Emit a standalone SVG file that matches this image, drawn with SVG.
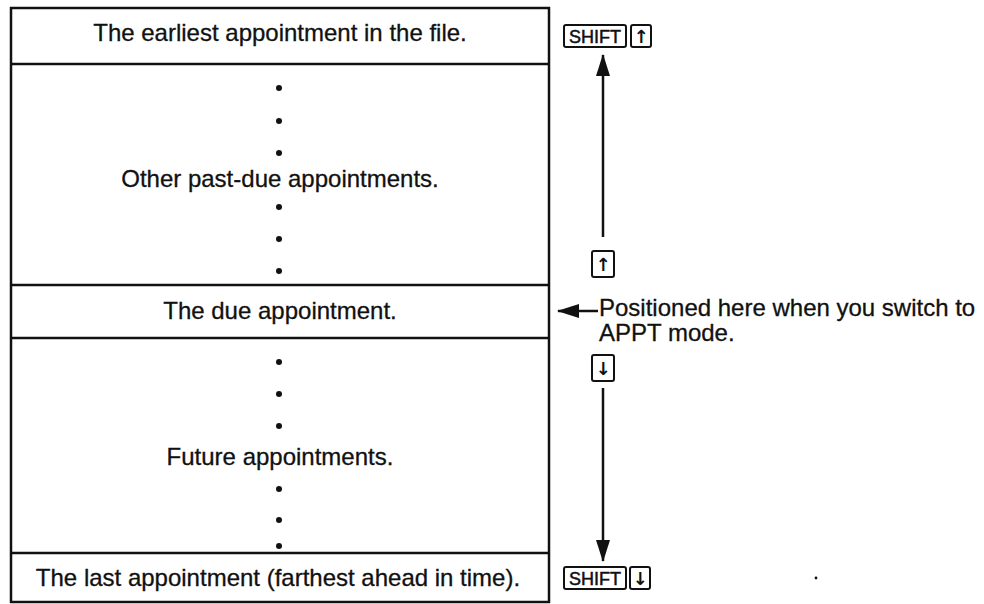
<svg xmlns="http://www.w3.org/2000/svg" width="984" height="604" viewBox="0 0 984 604">
<style>
.t{font-family:"Liberation Sans",Arial,sans-serif;font-size:24px;fill:#111;stroke:#111;stroke-width:0.3}
.c{text-anchor:middle}
.k{font-family:"Liberation Sans",Arial,sans-serif;font-size:18px;fill:#111;stroke:#111;stroke-width:0.5;text-anchor:middle}
.ka{font-family:"DejaVu Sans",sans-serif;font-size:18px;font-weight:bold;fill:#111;text-anchor:middle}
.box{fill:none;stroke:#111;stroke-width:2.5}
.key{fill:none;stroke:#111;stroke-width:2}
.ln{stroke:#111;stroke-width:2.5;fill:none}
.dot{fill:#111}
</style>
<defs>
<marker id="ah" viewBox="0 0 22 14" refX="21" refY="7" markerWidth="22" markerHeight="14" markerUnits="userSpaceOnUse" orient="auto">
<path d="M0,0 L22,7 L0,14 Z" fill="#111"/>
</marker>
</defs>
<g id="table">
<rect class="box" x="11" y="8" width="538" height="594"/>
</g>
<g id="n-earliest">
<line class="ln" x1="11" y1="64" x2="549" y2="64"/>
<text class="t c" x="280" y="41">The earliest appointment in the file.</text>
</g>
<g id="n-pastdue">
<circle class="dot" cx="279" cy="88" r="3"/>
<circle class="dot" cx="279" cy="121" r="3"/>
<circle class="dot" cx="279" cy="153" r="3"/>
<text class="t c" x="280" y="187">Other past-due appointments.</text>
<circle class="dot" cx="279" cy="207" r="3"/>
<circle class="dot" cx="279" cy="239" r="3"/>
<circle class="dot" cx="279" cy="271" r="3"/>
</g>
<g id="n-due">
<line class="ln" x1="11" y1="285" x2="549" y2="285"/>
<line class="ln" x1="11" y1="338" x2="549" y2="338"/>
<text class="t c" x="280" y="319">The due appointment.</text>
</g>
<g id="n-future">
<circle class="dot" cx="279" cy="362" r="3"/>
<circle class="dot" cx="279" cy="394" r="3"/>
<circle class="dot" cx="279" cy="426" r="3"/>
<text class="t c" x="280" y="465">Future appointments.</text>
<circle class="dot" cx="279" cy="489" r="3"/>
<circle class="dot" cx="279" cy="520" r="3"/>
<circle class="dot" cx="279" cy="546" r="3"/>
</g>
<g id="n-last">
<line class="ln" x1="11" y1="553" x2="549" y2="553"/>
<text class="t c" x="278" y="586">The last appointment (farthest ahead in time).</text>
</g>
<g id="k-shift-up">
<rect class="key" x="564" y="25" width="62" height="22" rx="2"/>
<text class="k" x="595" y="43">SHIFT</text>
<rect class="key" x="631" y="25" width="20" height="22" rx="2"/>
<text class="ka" x="641" y="43">↑</text>
</g>
<g id="k-up">
<rect class="key" x="592" y="251" width="22" height="26" rx="2"/>
<text class="ka" x="603" y="271">↑</text>
</g>
<g id="k-down">
<rect class="key" x="592" y="355" width="22" height="26" rx="2"/>
<text class="ka" x="603" y="375">↓</text>
</g>
<g id="k-shift-down">
<rect class="key" x="564" y="567" width="62" height="22" rx="2"/>
<text class="k" x="595" y="585">SHIFT</text>
<rect class="key" x="630" y="567" width="20" height="22" rx="2"/>
<text class="ka" x="640" y="585">↓</text>
</g>
<g id="n-note">
<text class="t" x="599" y="316">Positioned here when you switch to</text>
<text class="t" x="599" y="341">APPT mode.</text>
</g>
<g id="connectors">
<line class="ln" x1="603" y1="237" x2="603" y2="55" marker-end="url(#ah)"/>
<line class="ln" x1="603" y1="388" x2="603" y2="561" marker-end="url(#ah)"/>
<line class="ln" x1="598" y1="311" x2="558" y2="311" marker-end="url(#ah)"/>
</g>
<circle class="dot" cx="816" cy="578" r="1.4"/>
</svg>
